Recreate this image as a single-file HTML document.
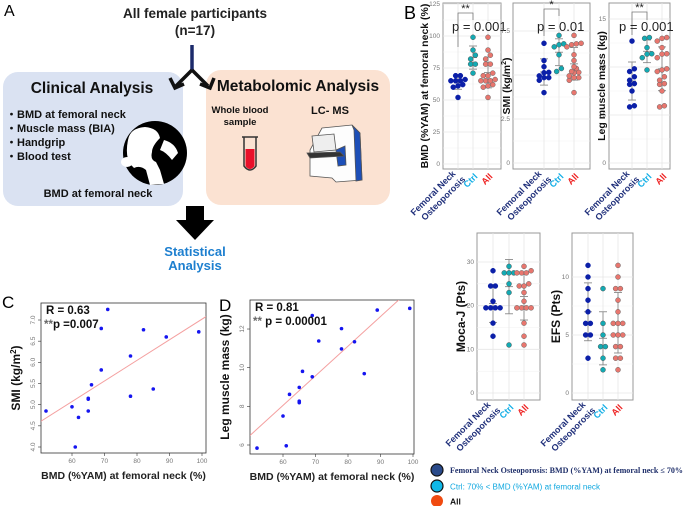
<!DOCTYPE html>
<html><head><meta charset="utf-8"><style>
html,body{margin:0;padding:0;background:#fff}
svg{display:block;font-family:"Liberation Sans",Arial,sans-serif}
.b{font-weight:bold}
.tk{font-size:6.5px;fill:#777}
</style></head><body>
<svg id="fig" width="685" height="506" viewBox="0 0 685 506">
<g>
<text x="4" y="16" font-size="16">A</text>
<text x="195" y="18" font-size="13.5" class="b" text-anchor="middle" fill="#222">All female participants</text>
<text x="195" y="35" font-size="13.5" class="b" text-anchor="middle" fill="#222">(n=17)</text>
<rect x="3" y="72" width="180" height="134" rx="15" fill="#dae2f2"/>
<rect x="206" y="70" width="184" height="135" rx="15" fill="#fbe2d2"/>
<line x1="192" y1="45" x2="192" y2="70" stroke="#1c2a6b" stroke-width="3.5"/>
<path d="M192 70 L176 86 M170 78 L175 88 L184 84 M192 70 L208 86 M200 84 L210 88 L214 78" stroke="#111" stroke-width="3.5" fill="none"/>
<text x="92" y="93" font-size="15.5" class="b" text-anchor="middle" fill="#111">Clinical Analysis</text>
<text x="298" y="91" font-size="15.5" class="b" text-anchor="middle" fill="#111">Metabolomic Analysis</text>
<g font-size="11" class="b" fill="#111">
<text x="6" y="118">・BMD at femoral neck</text>
<text x="6" y="132">・Muscle mass (BIA)</text>
<text x="6" y="146">・Handgrip</text>
<text x="6" y="160">・Blood test</text>
</g>
<g>
<circle cx="155" cy="153" r="32" fill="#000"/>
<path d="M128 140 Q130 128 145 127 Q158 128 160 138 Q152 146 152 152 Q150 160 156 162 L160 170 L164 184 L150 185 L146 170 Q140 165 134 168 Q124 160 128 140 Z" fill="#fff"/>
<ellipse cx="127" cy="162" rx="6" ry="5" fill="#fff"/>
<path d="M164 140 Q175 143 178 153 L172 160 Q166 152 160 150 Z" fill="#fff"/>
</g>
<text x="98" y="197" font-size="11" class="b" text-anchor="middle" fill="#111">BMD at femoral neck</text>
<text x="240" y="113" font-size="9.5" class="b" text-anchor="middle" fill="#111">Whole blood</text>
<text x="240" y="125" font-size="9.5" class="b" text-anchor="middle" fill="#111">sample</text>
<g>
<path d="M244 137 L244 166 Q250 174 256 166 L256 137" fill="none" stroke="#333" stroke-width="1.5"/>
<path d="M245.5 149 L245.5 166 Q250 172 254.5 166 L254.5 149 Z" fill="#e8102a"/>
<line x1="242" y1="137" x2="258" y2="137" stroke="#333" stroke-width="1.5"/>
</g>
<text x="330" y="114" font-size="11" class="b" text-anchor="middle" fill="#111">LC- MS</text>
<g stroke="#555" stroke-width="0.8">
<path d="M322 128 L352 125 L360 133 L362 180 L336 182 L332 178 L310 176 L310 150 Z" fill="#fdfdfd"/>
<path d="M352 125 L360 133 L362 180 L356 181 L354 130 Z" fill="#1d4fb8"/>
<path d="M336 150 L345 146 L346 165 L338 166 Z" fill="#1d4fb8"/>
<path d="M307 153 L340 152 L344 156 L310 158 Z" fill="#333"/>
<path d="M312 136 L334 134 L336 150 L314 152 Z" fill="#eee"/>
</g>
<path d="M186 206 L204 206 L204 220 L214 220 L195 240 L176 220 L186 220 Z" fill="#000"/>
<text x="195" y="256" font-size="13" class="b" text-anchor="middle" fill="#1d7fcf">Statistical</text>
<text x="195" y="270" font-size="13" class="b" text-anchor="middle" fill="#1d7fcf">Analysis</text>
</g>
<text x="404" y="19" font-size="18">B</text>
<text x="2" y="308" font-size="17">C</text>
<text x="219" y="311" font-size="17">D</text>
<g id="charts"></g>
<g>
<circle cx="437" cy="470" r="6" fill="#2a4a8a" stroke="#111" stroke-width="1.2"/>
<text x="450" y="473" font-size="8" class="b" fill="#1f2f6a" font-family="Liberation Serif,serif" textLength="233" lengthAdjust="spacingAndGlyphs">Femoral Neck Osteoporosis: BMD (%YAM) at femoral neck ≤ 70%</text>
<circle cx="437" cy="486" r="6" fill="#10b8e8" stroke="#111" stroke-width="1.2"/>
<text x="450" y="489.5" font-size="8" fill="#10a8e0" textLength="150" lengthAdjust="spacingAndGlyphs">Ctrl: 70% &lt; BMD (%YAM) at femoral neck</text>
<circle cx="437" cy="501" r="6" fill="#f04a10"/>
<text x="450" y="504.5" font-size="8.5" class="b" fill="#111">All</text>
</g>
</svg>
<script>
const bmdOP=[52,60,61,62,65,65,65,66,69,69];
const bmdCtrl=[71,78,78,82,85,89,99];
const smiOP=[4.85,4.95,4.0,4.7,4.85,5.13,5.15,5.47,5.82,6.8];
const smiCtrl=[7.25,5.2,6.15,6.77,5.37,6.6,6.72];
const legOP=[5.84,7.5,5.96,8.62,8.98,8.27,8.19,9.81,9.53,12.7];
const legCtrl=[11.38,12.02,10.97,11.34,9.69,12.98,13.07];
const mocaOP=[28,24.5,24.5,21,19.5,19.5,19.5,19.5,16,13];
const mocaCtrl=[29,27.5,27.5,27.5,25,23,11];
const efsOP=[11,10,9,8,7,6,6,5,5,3];
const efsCtrl=[9,6,5,4,4,3,2];
const bmdTicks=[0,25,50,75,100,125];
const smiTicks=[0,2.5,5,7.5];
const legTicks=[0,5,10,15];
const mocaTicks=[0,10,20,30];
const efsTicks=[0,5,10];
const scatC_x=[52,60,61,62,65,65,65,66,69,69,71,78,78,82,85,89,99];
const scatC_y=[4.85,4.95,4.0,4.7,4.85,5.13,5.15,5.47,5.82,6.8,7.25,5.2,6.15,6.77,5.37,6.6,6.72];
const scatD_x=[52,60,61,62,65,65,65,66,69,69,71,78,78,82,85,89,99];
const scatD_y=[5.84,7.5,5.96,8.62,8.27,8.19,8.98,9.81,9.53,12.7,11.38,12.02,10.97,11.34,9.69,12.98,13.07];
const cTicksX=[60,70,80,90,100], cTicksY=[4.0,4.5,5.0,5.5,6.0,6.5,7.0];
const dTicksX=[60,70,80,90,100], dTicksY=[6,8,10,12];

const NS='http://www.w3.org/2000/svg';
const root=document.getElementById('charts');
function mk(tag,attrs,parent){const e=document.createElementNS(NS,tag);for(const k in attrs)e.setAttribute(k,attrs[k]);(parent||root).appendChild(e);return e;}
function mean(a){return a.reduce((s,v)=>s+v,0)/a.length;}
function sd(a){const m=mean(a);return Math.sqrt(a.reduce((s,v)=>s+(v-m)*(v-m),0)/(a.length-1));}

function dotPlot(o){
  const g=mk('g',{});
  
  
  const y=v=>o.y0+(v)*(o.yTop-o.y0)/o.vTop;
  const fr=mk('rect',{x:o.x1,y:o.top,width:o.x2-o.x1,height:o.bottom-o.top,fill:'#fff',stroke:'#999','stroke-width':1},g);
  
  
  o.ticks.forEach((t,i)=>{
    if(i<o.ticks.length-1){const mv=(t+o.ticks[i+1])/2;mk('line',{x1:o.x1,x2:o.x2,y1:y(mv),y2:y(mv),stroke:'#f2f2f2','stroke-width':0.6},g);}
    mk('line',{x1:o.x1,x2:o.x2,y1:y(t),y2:y(t),stroke:'#e6e6e6','stroke-width':0.8},g);
    const tl=mk('text',{x:o.x1-3,y:y(t)+2,'text-anchor':'end',class:'tk'},g);
    tl.textContent=String(t);
    
    
  });
  o.cx.forEach(cx=>mk('line',{x1:cx,x2:cx,y1:o.top,y2:o.bottom,stroke:'#e6e6e6','stroke-width':0.8},g));
  const groups=[o.a,o.b,o.a.concat(o.b)];
  const fills=['#0b1fa8','#13aab3','#e8766e'];
  const strokes=['#0b1fa8','#555','#666'];
  const r=2.5;
  groups.forEach((vals,gi)=>{
    const cx=o.cx[gi];
    const m=mean(vals),s=sd(vals);
    const eb=mk('g',{stroke:'#8a8a8a','stroke-width':0.9},g);
    
    
    mk('line',{x1:cx,x2:cx,y1:y(m-s),y2:y(m+s)},eb);
    [m-s,m,m+s].forEach(v=>mk('line',{x1:cx-4,x2:cx+4,y1:y(v),y2:y(v)},eb));
    const sorted=vals.slice().sort((p,q)=>p-q);
    const bins=[];
    sorted.forEach(v=>{const last=bins[bins.length-1];if(last&&Math.abs(y(v)-y(last[0]))<1.6*r)last.push(v);else bins.push([v]);});
    bins.forEach(bn=>{bn.forEach((v,i)=>{
      const c=mk('circle',{cx:cx+(i-(bn.length-1)/2)*1.9*r,cy:y(v),r:r,fill:fills[gi],stroke:strokes[gi],'stroke-width':0.5},g);
      
      
    });});
  });
  const labs=[['Femoral Neck','Osteoporosis'],['Ctrl'],['All']];
  const cols=['#1f2f7a','#12aee6','#ee2222'];
  labs.forEach((l,i)=>{
    const t=mk('text',{transform:`translate(${o.cx[i]+3},${o.bottom+6}) rotate(-45)`,'text-anchor':'end','font-size':9,'font-weight':'bold',fill:cols[i]},g);
    
    
    l.forEach((s,j)=>{const ts=mk('tspan',{x:(l.length===2&&j===0)?-3:0,dy:j===0?(l.length===2?-4:3):11},t);ts.textContent=s;});
  });
  const yt=mk('text',{transform:`translate(${o.titleX},${(o.top+o.bottom)/2}) rotate(-90)`,'text-anchor':'middle','font-size':o.tfs||10.5,'font-weight':'bold',fill:'#111'},g);
  yt.innerHTML=o.title;
  
  
  if(o.sig){
    const s=o.sig;
    mk('path',{d:`M${o.cx[0]} ${s.l} L${o.cx[0]} ${s.by} L${o.cx[1]} ${s.by} L${o.cx[1]} ${s.r}`,fill:'none',stroke:'#777','stroke-width':0.8},g);
    const st=mk('text',{x:(o.cx[0]+o.cx[1])/2,y:s.by-1,'text-anchor':'middle','font-size':11,fill:'#222'},g);
    st.textContent=s.star;
    
    
    const pt=mk('text',{x:s.px,y:31,'font-size':13,fill:'#222'},g);
    pt.textContent=s.p;
    
    
  }
}

dotPlot({name:'bmd-dotplot',x1:443,x2:501,top:3,bottom:169,y0:164,yTop:36,vTop:100,ticks:bmdTicks,cx:[458,473,488],a:bmdOP,b:bmdCtrl,titleX:428,title:'BMD (%YAM) at femoral neck (%)',sig:{by:13,l:47,r:20,star:'**',p:'p = 0.001',px:452}});
dotPlot({name:'smi-dotplot',x1:513,x2:590,top:3,bottom:169,y0:163,yTop:31,vTop:7.5,ticks:smiTicks,cx:[544,559,574],a:smiOP,b:smiCtrl,titleX:510,title:'SMI (kg/m<tspan font-size="7" dy="-4">2</tspan><tspan dy="4">)</tspan>',sig:{by:9,l:36,r:16,star:'*',p:'p = 0.01',px:537}});
dotPlot({name:'leg-muscle-dotplot',x1:609,x2:670,top:3,bottom:169,y0:163,yTop:19,vTop:15,ticks:legTicks,cx:[632,647,662],a:legOP,b:legCtrl,titleX:605,title:'Leg muscle mass (kg)'});
dotPlot({name:'moca-dotplot',x1:477,x2:540,top:233,bottom:400,y0:393,yTop:262,vTop:30,ticks:mocaTicks,cx:[493,509,524],a:mocaOP,b:mocaCtrl,titleX:465,tfs:12,title:'Moca-J (Pts)'});
dotPlot({name:'efs-dotplot',x1:572,x2:633,top:233,bottom:400,y0:393,yTop:277,vTop:10,ticks:efsTicks,cx:[588,603,618],a:efsOP,b:efsCtrl,titleX:560,tfs:12,title:'EFS (Pts)'});
(function(){const g=root.lastChild;})();
// significance for leg plot
(function(){
  const g=mk('g',{});
  
  
  mk('path',{d:'M632 35 L632 12 L647 12 L647 20',fill:'none',stroke:'#777','stroke-width':0.8},g);
  const st=mk('text',{x:639.5,y:11,'text-anchor':'middle','font-size':11,fill:'#222'},g);st.textContent='**';
  const pt=mk('text',{x:619,y:31,'font-size':13,fill:'#222'},g);pt.textContent='p = 0.001';
})();

function scatter(o){
  const g=mk('g',{});
  
  
  const X=v=>o.px60+(v-60)*o.kx, Y=v=>o.pyA+(v-o.vA)*o.ky;
  const fr=mk('rect',{x:o.x1,y:o.top,width:o.x2-o.x1,height:o.bottom-o.top,fill:'none',stroke:'#333','stroke-width':0.8},g);
  
  
  o.tx.forEach(t=>{mk('line',{x1:X(t),x2:X(t),y1:o.bottom,y2:o.bottom+3,stroke:'#333','stroke-width':0.6},g);
    const tl=mk('text',{x:X(t),y:o.bottom+10,'text-anchor':'middle',class:'tk',fill:'#555'},g);tl.textContent=t;
    
    });
  o.ty.forEach(t=>{mk('line',{x1:o.x1-3,x2:o.x1,y1:Y(t),y2:Y(t),stroke:'#333','stroke-width':0.6},g);
    const tl=mk('text',{transform:`translate(${o.x1-6},${Y(t)}) rotate(-90)`,'text-anchor':'middle',class:'tk'},g);tl.textContent=o.fmt(t);
    
    });
  const xs=o.xs,ys=o.ys,mx=mean(xs),my=mean(ys);
  let sxy=0,sxx=0;xs.forEach((x,i)=>{sxy+=(x-mx)*(ys[i]-my);sxx+=(x-mx)*(x-mx);});
  const b=sxy/sxx,a=my-b*mx;
  const cp=mk('clipPath',{id:o.name+'-clip'},g);mk('rect',{x:o.x1,y:o.top,width:o.x2-o.x1,height:o.bottom-o.top},cp);
  const xa=60+(o.x1-o.px60)/o.kx, xb=60+(o.x2-o.px60)/o.kx;
  const rl=mk('line',{x1:o.x1,y1:Y(a+b*xa),x2:o.x2,y2:Y(a+b*xb),stroke:'#f4a0a0','stroke-width':1,'clip-path':`url(#${o.name}-clip)`},g);
  
  
  xs.forEach((x,i)=>{const c=mk('circle',{cx:X(x),cy:Y(ys[i]),r:1.8,fill:'#1515f0'},g);
    
    });
  const r1=mk('text',{x:o.x1+5,y:o.top+11,'font-size':11.5,'font-weight':'bold',fill:'#111'},g);r1.textContent=o.R;
  
  
  const r2=mk('text',{x:o.x1+3,y:o.top+25,'font-size':11.5,'font-weight':'bold',fill:'#111'},g);r2.innerHTML='<tspan fill="#666">**</tspan>'+o.P;
  
  
  const xt=mk('text',{x:(o.x1+o.x2)/2,y:o.bottom+26,'text-anchor':'middle','font-size':10.5,'font-weight':'bold',fill:'#222'},g);xt.textContent='BMD (%YAM) at femoral neck (%)';
  
  
  const yt=mk('text',{transform:`translate(${o.x1-21},${(o.top+o.bottom)/2}) rotate(-90)`,'text-anchor':'middle','font-size':12,'font-weight':'bold',fill:'#111'},g);yt.innerHTML=o.title;
  
  
}
scatter({name:'scatter-smi',x1:41,x2:206,top:303,bottom:453,px60:72,kx:3.25,pyA:447,vA:4,ky:-42.33,tx:cTicksX,ty:cTicksY,xs:scatC_x,ys:scatC_y,fmt:t=>t.toFixed(1),R:'R = 0.63',P:'p =0.007',title:'SMI (kg/m<tspan font-size="8" dy="-4">2</tspan><tspan dy="4">)</tspan>'});
scatter({name:'scatter-leg',x1:250,x2:414,top:300,bottom:454,px60:283,kx:3.25,pyA:445,vA:6,ky:-19.33,tx:dTicksX,ty:dTicksY,xs:scatD_x,ys:scatD_y,fmt:t=>String(t),R:'R = 0.81',P:' p = 0.00001',title:'Leg muscle mass (kg)'});
</script>
</body></html>
